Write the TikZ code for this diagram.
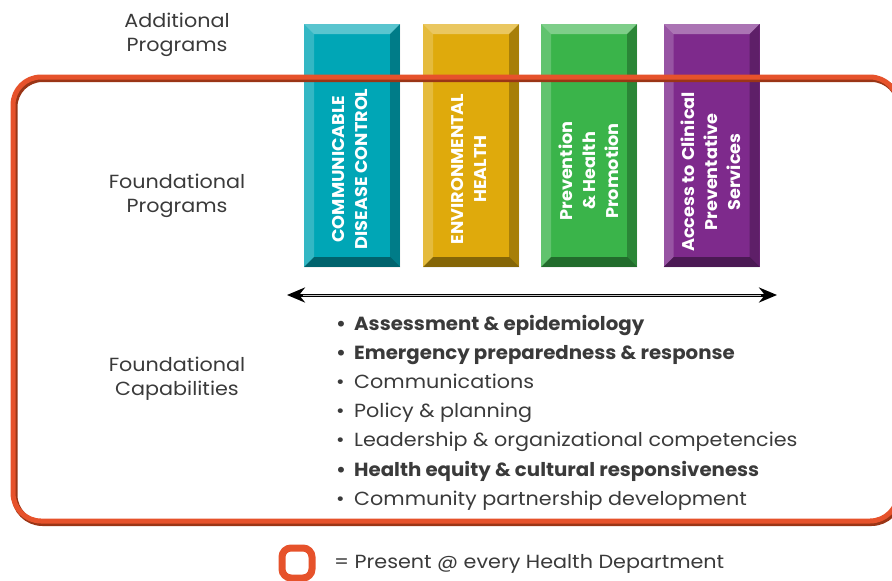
\documentclass[tikz,border=0pt]{standalone}
\usepackage{fontspec}
\setmainfont{Poppins}[FakeStretch=1.09, BoldFeatures={FakeStretch=1.04}]
\usetikzlibrary{arrows.meta}
\definecolor{frameOrange}{HTML}{E6522B}
\definecolor{frameDark}{HTML}{9A3516}
\definecolor{cdcTeal}{HTML}{00A6B6}
\definecolor{ehGold}{HTML}{DFAA0C}
\definecolor{phpGreen}{HTML}{3AB44A}
\definecolor{acpPurple}{HTML}{7E2A8C}
\definecolor{txtGray}{HTML}{3A3A3A}
\begin{document}
\begin{tikzpicture}[x=1pt, y=-1pt,
    pillarStyle/.style={fill=#1, minimum width=96pt, minimum height=243pt, inner sep=0pt,
        path picture={
            \fill[white, opacity=.35] (path picture bounding box.north west) -- (path picture bounding box.north east)
                -- ([shift={(-10pt,-10pt)}]path picture bounding box.north east) -- ([shift={(10pt,-10pt)}]path picture bounding box.north west) -- cycle;
            \fill[white, opacity=.2] (path picture bounding box.north west) -- ([shift={(10pt,-10pt)}]path picture bounding box.north west)
                -- ([shift={(10pt,10pt)}]path picture bounding box.south west) -- (path picture bounding box.south west) -- cycle;
            \fill[black, opacity=.25] (path picture bounding box.north east) -- ([shift={(-10pt,-10pt)}]path picture bounding box.north east)
                -- ([shift={(-10pt,10pt)}]path picture bounding box.south east) -- (path picture bounding box.south east) -- cycle;
            \fill[black, opacity=.4] (path picture bounding box.south west) -- (path picture bounding box.south east)
                -- ([shift={(-10pt,10pt)}]path picture bounding box.south east) -- ([shift={(10pt,10pt)}]path picture bounding box.south west) -- cycle;
        }},
    pillarText/.style={rotate=90, align=center, text=white, font=\bfseries\fontsize{17}{23}\selectfont},
    sideLabel/.style={align=center, text=txtGray, font=\fontsize{19}{24}\selectfont},
    capItem/.style={anchor=base west, text=txtGray, inner sep=0pt, font=\fontsize{19}{22}\selectfont},
    capBold/.style={capItem, font=\bfseries\fontsize{19}{22}\selectfont},
    frameStyle/.style={rounded corners=28pt, line width=6pt}]
    \useasboundingbox (0,0) rectangle (892,581);

    % left labels
    \node[sideLabel](addLbl) at (177, 35) {Additional\\Programs};
    \node[sideLabel](fpLbl) at (177, 196) {Foundational\\Programs};
    \node[sideLabel](fcLbl) at (177, 379) {Foundational\\Capabilities};

    % pillars
    \node[pillarStyle=cdcTeal](cdc) at (352, 145.5) {};
    \node[pillarStyle=ehGold](eh) at (471, 145.5) {};
    \node[pillarStyle=phpGreen](php) at (589, 145.5) {};
    \node[pillarStyle=acpPurple](acp) at (711.5, 145.5) {};
    \node[pillarText](cdcTxt) at (350, 169) {COMMUNICABLE\\DISEASE CONTROL};
    \node[pillarText](ehTxt) at (469, 169) {ENVIRONMENTAL\\HEALTH};
    \node[pillarText](phpTxt) at (589, 171) {Prevention\\\& Health\\Promotion};
    \node[pillarText](acpTxt) at (711, 172) {Access to Clinical\\Preventative\\Services};

    % frame
    \node[draw=frameDark, frameStyle, minimum width=885pt, minimum height=444pt](frameShadow) at (457, 301) {};
    \node[draw=frameOrange, frameStyle, line width=5pt, minimum width=885pt, minimum height=444pt](frame) at (455.5, 299) {};

    % arrow
    \coordinate (arrL) at (287, 295);
    \coordinate (arrR) at (777, 295);
    \draw[line width=3pt, {Stealth[length=18pt, width=15pt]}-{Stealth[length=18pt, width=15pt]}] (arrL) -- (arrR);
    \draw[gray!45, line width=0.6pt] ([shift={(16pt,-0.6pt)}]arrL) -- ([shift={(-16pt,-0.6pt)}]arrR);

    % capabilities
    \node[capBold](c1) at (336, 330) {\makebox[18pt][l]{•}Assessment \& epidemiology};
    \node[capBold](c2) at (336, 359) {\makebox[18pt][l]{•}Emergency preparedness \& response};
    \node[capItem](c3) at (336, 388) {\makebox[18pt][l]{•}Communications};
    \node[capItem](c4) at (336, 417) {\makebox[18pt][l]{•}Policy \& planning};
    \node[capItem](c5) at (336, 446) {\makebox[18pt][l]{•}Leadership \& organizational competencies};
    \node[capBold](c6) at (336, 476) {\makebox[18pt][l]{•}Health equity \& cultural responsiveness};
    \node[capItem](c7) at (336, 505) {\makebox[18pt][l]{•}Community partnership development};

    % legend
    \node[draw=frameOrange, line width=7pt, rounded corners=9pt, minimum size=30pt](legendBox) at (297, 563) {};
    \node[capItem](legendTxt) at (334, 568) {= Present @ every Health Department};
\end{tikzpicture}
\end{document}
